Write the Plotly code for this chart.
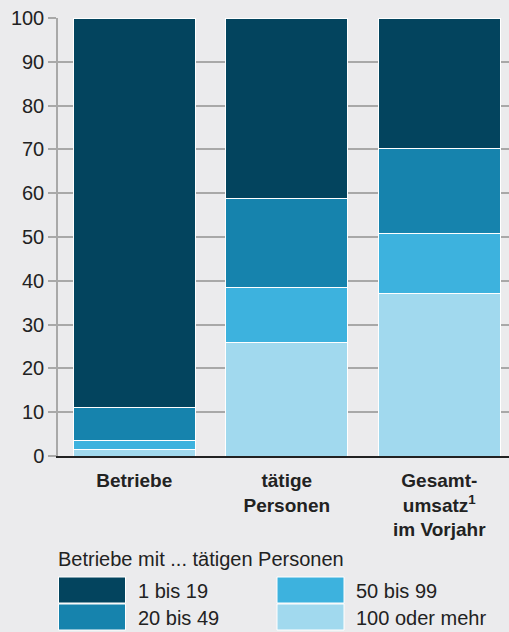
import plotly.graph_objects as go

categories = ["Betriebe", "tätige<br>Personen", "Gesamt-<br>umsatz<sup>1</sup><br>im Vorjahr"]
groups = ["100 oder mehr", "50 bis 99", "20 bis 49", "1 bis 19"]
colors = ["#a1d9ee", "#3db2de", "#1683ad", "#03445e"]
values = {
    "100 oder mehr": [1.5, 26.0, 37.2],
    "50 bis 99": [2.0, 12.4, 13.7],
    "20 bis 49": [7.6, 20.3, 19.2],
    "1 bis 19": [88.9, 41.3, 29.9],
}
legend_order = ["1 bis 19", "20 bis 49", "50 bis 99", "100 oder mehr"]

W, H = 509, 632
L, R, T, B = 58, 0, 18, 176
FONT = "Liberation Sans, Arial, sans-serif"
FS = 20


def px_x(px):
    return (px - L) / (W - L - R)


def px_y(py):
    return (H - B - py) / (H - T - B)


fig = go.Figure()
for g, c in zip(groups, colors):
    fig.add_trace(go.Bar(
        x=[f"<b>{k}</b>" for k in categories],
        y=values[g],
        name=g,
        marker=dict(color=c, line=dict(color="white", width=1)),
        showlegend=False,
    ))

# manual legend (two columns of wide swatches)
fig.add_annotation(x=px_x(56), y=px_y(559), xref="paper", yref="paper",
                   text="Betriebe mit ... tätigen Personen", showarrow=False,
                   xanchor="left", yanchor="middle", font=dict(size=FS, color="#222"))
swatch_pos = [(58.5, 577), (58.5, 604), (277, 577), (277, 604)]
for g, (sx, sy) in zip(legend_order, swatch_pos):
    c = colors[groups.index(g)]
    fig.add_shape(type="rect", xref="paper", yref="paper",
                  x0=px_x(sx), x1=px_x(sx + 67), y0=px_y(sy), y1=px_y(sy + 26),
                  fillcolor=c, line=dict(color="white", width=1))
    fig.add_annotation(x=px_x(sx + 77), y=px_y(sy + 14), xref="paper", yref="paper",
                       text=g, showarrow=False, xanchor="left", yanchor="middle",
                       font=dict(size=FS, color="#222"))

fig.update_layout(
    barmode="stack",
    bargap=0.2,
    width=W, height=H,
    margin=dict(l=L, r=R, t=T, b=B, pad=0),
    paper_bgcolor="#ebebed",
    plot_bgcolor="#ebebed",
    font=dict(family=FONT, size=FS, color="#222"),
    showlegend=False,
)
fig.update_xaxes(
    range=[-0.5, 2.457],
    showline=True, linecolor="#222", linewidth=2,
    ticks="", tickfont=dict(size=19, color="#222"),
    ticklabelstandoff=6,
    showgrid=False,
)
fig.update_yaxes(
    range=[0, 100], dtick=10,
    showgrid=True, gridcolor="#a8a8a8", gridwidth=1.5,
    showline=True, linecolor="#a8a8a8", linewidth=1.5,
    ticks="outside", ticklen=8, tickcolor="#a8a8a8", tickwidth=1.5,
    tickfont=dict(size=FS, color="#222"),
    zeroline=False,
)

fig.write_html("out.html", config={"displayModeBar": False},
               post_script="document.body.style.margin='0';document.body.style.overflow='hidden';")
